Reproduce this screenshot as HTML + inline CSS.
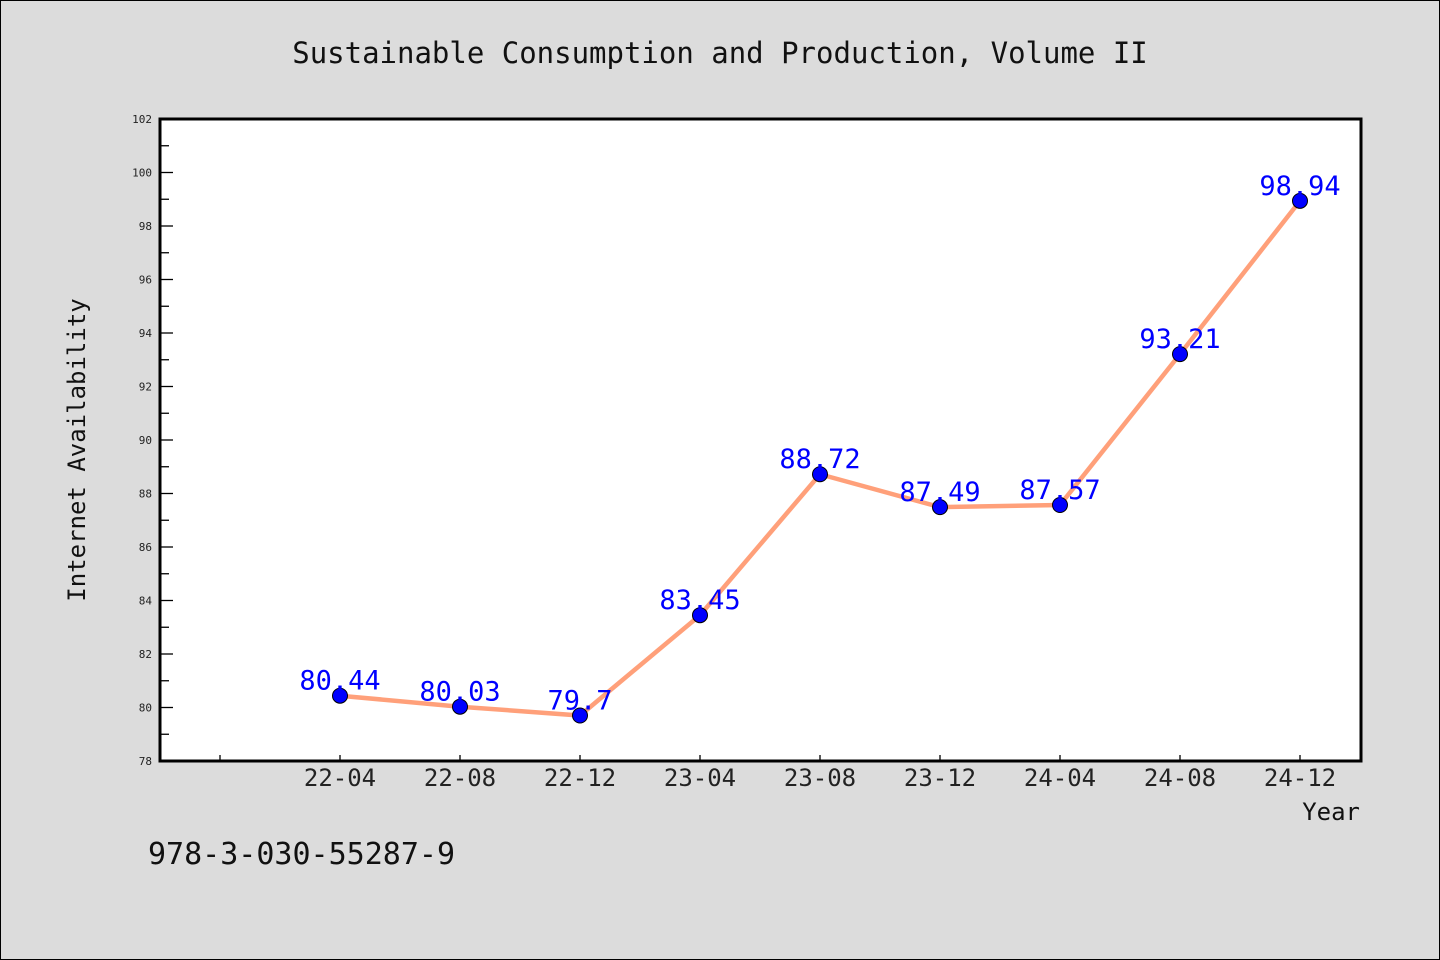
<!DOCTYPE html>
<html><head><meta charset="utf-8"><style>
html,body{margin:0;padding:0;background:#dcdcdc;}
svg{display:block;font-family:"WenQuanYi Zen Hei Mono","DejaVu Sans Mono","Liberation Mono",monospace;}
</style></head><body>
<svg id="chart" width="1440" height="960" xmlns="http://www.w3.org/2000/svg">
<rect x="0.5" y="0.5" width="1439" height="959" fill="#dcdcdc" stroke="#000"/>
<text x="720" y="63" text-anchor="middle" font-size="29" fill="#111">Sustainable Consumption and Production, Volume II</text>
<rect x="160" y="119" width="1201" height="642" fill="#fff"/>
<g id="yaxis"></g>
<g id="xaxis"></g>
<g id="series"></g>
<rect x="160" y="119" width="1201" height="642" fill="none" stroke="#000" stroke-width="3"/>
<text transform="translate(85,450) rotate(-90)" text-anchor="middle" font-size="24" fill="#111">Internet Availability</text>
<text x="1360" y="820" text-anchor="end" font-size="24" fill="#111">Year</text>
<text x="148" y="864" font-size="30" fill="#111">978-3-030-55287-9</text>
</svg>
<script>
const categories = ["22-04","22-08","22-12","23-04","23-08","23-12","24-04","24-08","24-12"];
const values = [80.44,80.03,79.7,83.45,88.72,87.49,87.57,93.21,98.94];
const labels = ["80.44","80.03","79.7","83.45","88.72","87.49","87.57","93.21","98.94"];
const yTicks = [78,80,82,84,86,88,90,92,94,96,98,100,102];
const NS="http://www.w3.org/2000/svg";
const yMin=78,yMax=102,plotTop=119,plotBot=761;
function yS(v){return plotBot-(v-yMin)/(yMax-yMin)*(plotBot-plotTop);}
function xS(i){return 340+120*i;}
function mk(t,a,p){const e=document.createElementNS(NS,t);for(const k in a)e.setAttribute(k,a[k]);p.appendChild(e);return e;}
const ya=document.getElementById('yaxis');
for(const t of yTicks){
  const l=mk('line',{x1:160,x2:173,y1:yS(t),y2:yS(t),stroke:'#000','stroke-width':1.3},ya);
  
  
  const tx=mk('text',{x:152,y:yS(t)+4,'text-anchor':'end','font-size':11,fill:'#222'},ya);
  tx.textContent=t;
  
  
  if(t<yMax){
    const m=mk('line',{x1:160,x2:169,y1:yS(t+1),y2:yS(t+1),stroke:'#000','stroke-width':1.3},ya);
    
    
  }
}
const xa=document.getElementById('xaxis');
const et=mk('line',{x1:xS(-1),x2:xS(-1),y1:761,y2:755,stroke:'#000','stroke-width':1.3},xa);


categories.forEach((c,i)=>{
  const l=mk('line',{x1:xS(i),x2:xS(i),y1:761,y2:755,stroke:'#000','stroke-width':1.3},xa);
  
  
  const t=mk('text',{x:xS(i),y:786,'text-anchor':'middle','font-size':24,fill:'#222'},xa);
  t.textContent=c;
  
  
});
const s=document.getElementById('series');
const pl=mk('polyline',{points:values.map((v,i)=>xS(i)+','+yS(v)).join(' '),fill:'none',stroke:'#ffa07a','stroke-width':4.5},s);


values.forEach((v,i)=>{
  const c=mk('circle',{cx:xS(i),cy:yS(v),r:7.5,fill:'#0000ff',stroke:'#000','stroke-width':1},s);
  
  
});
values.forEach((v,i)=>{
  const t=mk('text',{x:xS(i),y:yS(v)-6,'text-anchor':'middle','font-size':27,fill:'#0000ff'},s);
  t.textContent=labels[i];
  
  
});
</script>
</body></html>
